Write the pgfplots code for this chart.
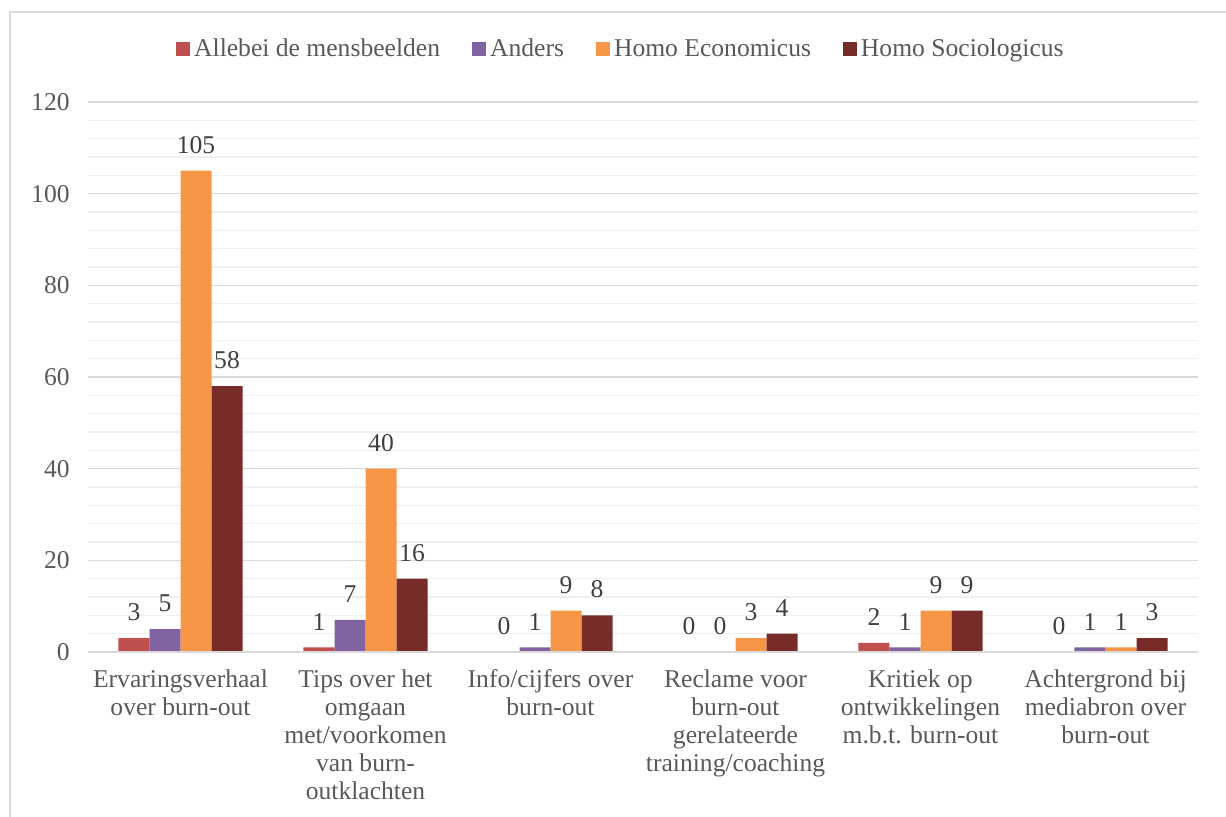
\documentclass[border=0pt]{standalone}
\usepackage{pgfplots}
\pgfplotsset{compat=1.18}
\usepackage{fontspec}
\setmainfont{Liberation Serif}
\definecolor{cA}{HTML}{C0504D}
\definecolor{cB}{HTML}{8064A2}
\definecolor{cC}{HTML}{F79646}
\definecolor{cD}{HTML}{772C2A}
\definecolor{txt}{HTML}{595959}
\definecolor{grd}{HTML}{D9D9D9}
\definecolor{mgrd}{HTML}{EFEFEF}
\begin{document}
\begin{tikzpicture}
\useasboundingbox (-44pt,-82.5pt) rectangle (569pt,326pt);
\draw[grd, line width=0.9pt] (-39pt,-90pt) -- (-39pt,320pt) -- (580pt,320pt);
\begin{axis}[
  at={(0,0)}, anchor=south west,
  scale only axis, width=555pt, height=275pt,
  xmin=-0.5, xmax=5.5, ymin=0, ymax=120,
  ybar=0pt, bar width=15.5pt,
  axis line style={draw=none},
  axis x line*=bottom,
  xtick={0,...,5},
  xticklabels={
    {Ervaringsverhaal\\over burn-out},
    {Tips over het\\omgaan\\met/voorkomen\\van burn-\\outklachten},
    {Info/cijfers over\\burn-out},
    {Reclame voor\\burn-out\\gerelateerde\\training/coaching},
    {Kritiek op\\ontwikkelingen\\m.b.t. burn-out},
    {Achtergrond bij\\mediabron over\\burn-out}},
  xticklabel style={align=center, text=txt, font=\fontsize{12.8}{14}\selectfont, inner sep=0pt, yshift=-8.5pt},
  ytick={0,20,...,120},
  minor ytick={4,8,...,116},
  ymajorgrids, yminorgrids,
  major grid style={grd, line width=0.75pt},
  minor grid style={mgrd, line width=0.75pt},
  major tick length=0pt, minor tick length=0pt,
  yticklabel style={text=txt, font=\fontsize{12.8}{14}\selectfont, inner sep=0pt, xshift=-9pt},
  /pgf/number format/assume math mode=true,
  nodes near coords,
  every node near coord/.append style={text=black!75, font=\fontsize{12.8}{14}\selectfont, inner sep=0pt, yshift=8.5pt, anchor=south},
  legend columns=-1,
  legend style={at={(0.481,1.096)}, anchor=center, draw=none, fill=none,
    font=\fontsize{12.8}{14}\selectfont, text=txt,
    /tikz/every even column/.append style={column sep=14pt}},
  legend image code/.code={\fill[#1] (0pt,-3.4pt) rectangle (7pt,3.6pt);},
  clip=false,
]
\addplot[fill=cA, draw=none] coordinates {(0,3) (1,1) (2,0) (3,0) (4,2) (5,0)};
\addplot[fill=cB, draw=none] coordinates {(0,5) (1,7) (2,1) (3,0) (4,1) (5,1)};
\addplot[fill=cC, draw=none] coordinates {(0,105) (1,40) (2,9) (3,3) (4,9) (5,1)};
\addplot[fill=cD, draw=none] coordinates {(0,58) (1,16) (2,8) (3,4) (4,9) (5,3)};
\draw[grd, line width=0.9pt] (axis cs:-0.5,0) -- (axis cs:5.5,0);
\legend{Allebei de mensbeelden, Anders, Homo Economicus, Homo Sociologicus}
\end{axis}
\end{tikzpicture}
\end{document}
